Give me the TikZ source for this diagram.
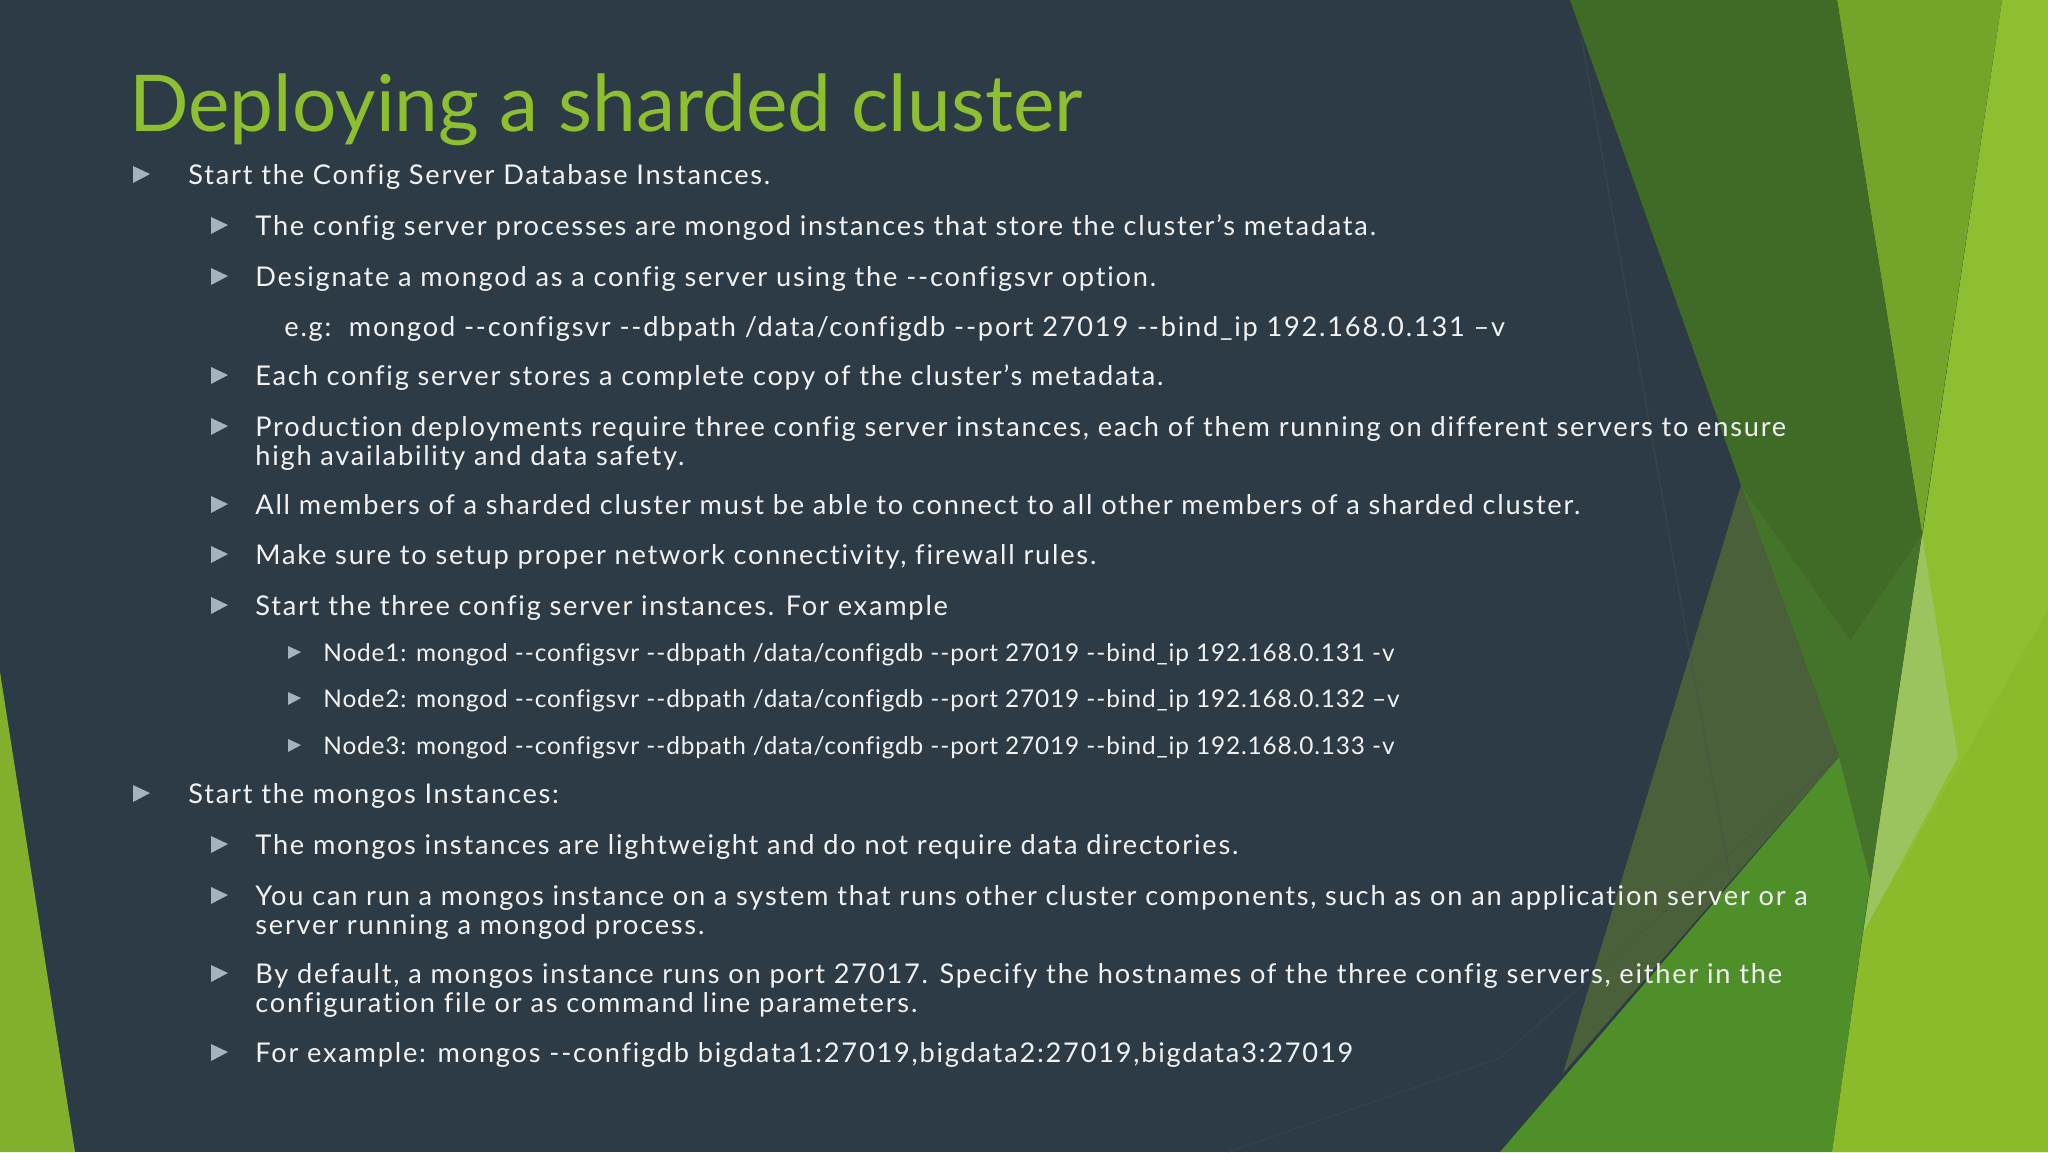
\documentclass[tikz,border=0pt]{standalone}
\usepackage{fontspec}
\setmainfont{Lato}
\newfontfamily\bodyA{Lato}[LetterSpace=6.5,Ligatures=NoCommon]
\newfontfamily\bodyB{Lato}[LetterSpace=3.5,Ligatures=NoCommon]
\definecolor{bg}{HTML}{2C3B45}
\definecolor{ttl}{HTML}{8DBF30}
\definecolor{bul}{HTML}{A3B4C0}
\definecolor{txt}{HTML}{F2F2F2}
\definecolor{dkg}{HTML}{44732A}
\definecolor{dkg2}{HTML}{3F6B27}
\definecolor{midg}{HTML}{74A52A}
\definecolor{brg}{HTML}{8DBF30}
\definecolor{brg2}{HTML}{8BBB2B}
\definecolor{pale}{HTML}{9BC45E}
\definecolor{olv}{HTML}{4A603A}
\definecolor{band}{HTML}{4F8F2A}
\definecolor{lgreen}{HTML}{83B02C}
\newcommand{\dd}{-{}-}
\tikzset{
 lone/.style={anchor=base west,text=txt,font=\bodyA\fontsize{13.6}{15}\selectfont,inner sep=0pt},
 lthree/.style={anchor=base west,text=txt,font=\bodyB\fontsize{12.2}{14}\selectfont,inner sep=0pt},
}
\newcommand{\bulat}[2]{\fill[bul] (#1,#2-9) -- (#1+17,#2-1) -- (#1,#2+8) -- cycle;}
\newcommand{\bulsm}[2]{\fill[bul] (#1,#2-7) -- (#1+13,#2-1) -- (#1,#2+6) -- cycle;}
\begin{document}
\begin{tikzpicture}[x=0.5pt,y=-0.5pt]
\fill[bg] (0,0) rectangle (2048,1152);
\useasboundingbox (0,0) rectangle (2048,1152);
% left green
\fill[lgreen] (0,672) -- (75,1152) -- (0,1152) -- cycle;
% right facets
\fill[brg] (2002,0) -- (2048,0) -- (2048,1152) -- (1832,1152) -- (1863,933) -- cycle;
\fill[brg2] (2048,610) -- (2048,1152) -- (1832,1152) -- (1863,933) -- cycle;
\fill[midg] (1837,0) -- (2002,0) -- (1922,534) -- cycle;
\fill[pale] (1922,534) -- (1958,757) -- (1863,933) -- cycle;
\fill[dkg2] (1570,0) -- (1837,0) -- (1922,534) -- (1850,640) -- (1741,485) -- cycle;
\fill[dkg] (1741,485) -- (1850,640) -- (1922,534) -- (1863,933) -- (1839,757) -- cycle;
\fill[olv] (1741,485) -- (1839,757) -- (1563,1073) -- (1690,654) -- cycle;
\fill[band] (1839,757) -- (1870,880) -- (1832,1152) -- (1500,1152) -- cycle;
\draw[black!70,opacity=0.5,line width=0.6pt] (1580,29) -- (1690,654) -- (1731,882);
\draw[black!70,opacity=0.4,line width=0.5pt] (1228,1152) -- (1500,1058) -- (1839,757);
% title
\node[anchor=base west,text=ttl,font=\fontsize{39.2}{43}\selectfont,inner sep=0pt] (title) at (129,131) {Deploying a sharded cluster};
% body
\bulat{133}{175}\node[lone] (a1) at (188,184) {Start the Config Server Database Instances.};
\bulat{211}{226}\node[lone] (a2) at (255,235) {The config server processes are mongod instances that store the cluster’s metadata.};
\bulat{211}{277}\node[lone] (a3) at (255,286) {Designate a mongod as a config server using the \dd configsvr option.};
\node[lone] (a4) at (284,336) {e.g:\ \ mongod \dd configsvr \dd dbpath /data/configdb \dd port 27019 \dd bind\_ip 192.168.0.131 –v};
\bulat{211}{376}\node[lone] (a5) at (255,385) {Each config server stores a complete copy of the cluster’s metadata.};
\bulat{211}{427}\node[lone] (a6) at (255,436) {Production deployments require three config server instances, each of them running on different servers to ensure};
\node[lone] (a6b) at (255,465) {high availability and data safety.};
\bulat{211}{505}\node[lone] (a7) at (255,514) {All members of a sharded cluster must be able to connect to all other members of a sharded cluster.};
\bulat{211}{555}\node[lone] (a8) at (255,564) {Make sure to setup proper network connectivity, firewall rules.};
\bulat{211}{606}\node[lone] (a9) at (255,615) {Start the three config server instances. For example};
\bulsm{288}{653}\node[lthree] (b1) at (323,661) {Node1: mongod \dd configsvr \dd dbpath /data/configdb \dd port 27019 \dd bind\_ip 192.168.0.131 -v};
\bulsm{288}{699}\node[lthree] (b2) at (323,707) {Node2: mongod \dd configsvr \dd dbpath /data/configdb \dd port 27019 \dd bind\_ip 192.168.0.132 –v};
\bulsm{288}{746}\node[lthree] (b3) at (323,754) {Node3: mongod \dd configsvr \dd dbpath /data/configdb \dd port 27019 \dd bind\_ip 192.168.0.133 -v};
\bulat{133}{794}\node[lone] (c1) at (188,803) {Start the mongos Instances:};
\bulat{211}{845}\node[lone] (c2) at (255,854) {The mongos instances are lightweight and do not require data directories.};
\bulat{211}{896}\node[lone] (c3) at (255,905) {You can run a mongos instance on a system that runs other cluster components, such as on an application server or a};
\node[lone] (c3b) at (255,934) {server running a mongod process.};
\bulat{211}{974}\node[lone] (c4) at (255,983) {By default, a mongos instance runs on port 27017. Specify the hostnames of the three config servers, either in the};
\node[lone] (c4b) at (255,1012) {configuration file or as command line parameters.};
\bulat{211}{1053}\node[lone] (c5) at (255,1062) {For example: mongos \dd configdb bigdata1:27019,bigdata2:27019,bigdata3:27019};
\end{tikzpicture}
\end{document}
